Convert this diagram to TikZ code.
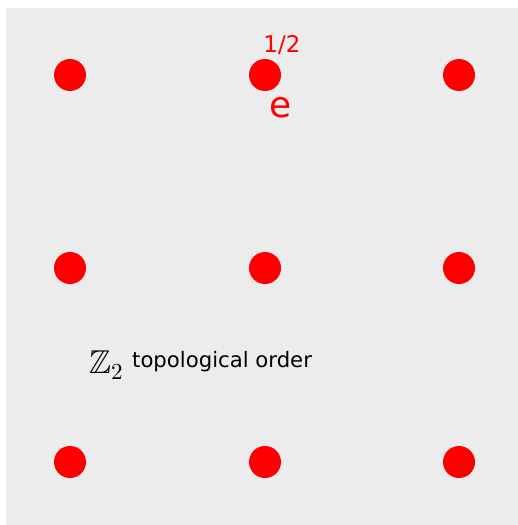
\documentclass[tikz,border=0pt]{standalone}
\usepackage{amssymb}
\usepackage{fontspec}
\setsansfont{DejaVu Sans}
\definecolor{bggray}{HTML}{ECECEC}
\begin{document}
\begin{tikzpicture}[x=1pt,y=-1pt,
  dot/.style={circle,fill=red,inner sep=0pt,minimum size=32pt},
  lbl/.style={inner sep=0pt,anchor=base}]
\useasboundingbox (0,0) rectangle (518,525);
\fill[bggray] (6,8) rectangle (518,525);
\foreach \i/\x in {1/70,2/265,3/459}{
  \foreach \j/\y in {1/75,2/268,3/462}{
    \node[dot] (d\i\j) at (\x,\y) {};
  }
}
\node[lbl,text=red,font=\sffamily\fontsize{23}{27}\selectfont] (half) at (282,52) {1/2};
\node[lbl,text=red,font=\sffamily\fontsize{36}{40}\selectfont] (e) at (281,117) {e};
\node[lbl,anchor=base west] (z2) at (89,373) {\scalebox{3.3}{$\mathbb{Z}$}};
\node[lbl,anchor=base west] (sub) at (111,379) {\scalebox{2.3}{$2$}};
\node[lbl,anchor=base west,font=\sffamily\fontsize{21.2}{25}\selectfont] (topo) at (132,367) {topological order};
\end{tikzpicture}
\end{document}
